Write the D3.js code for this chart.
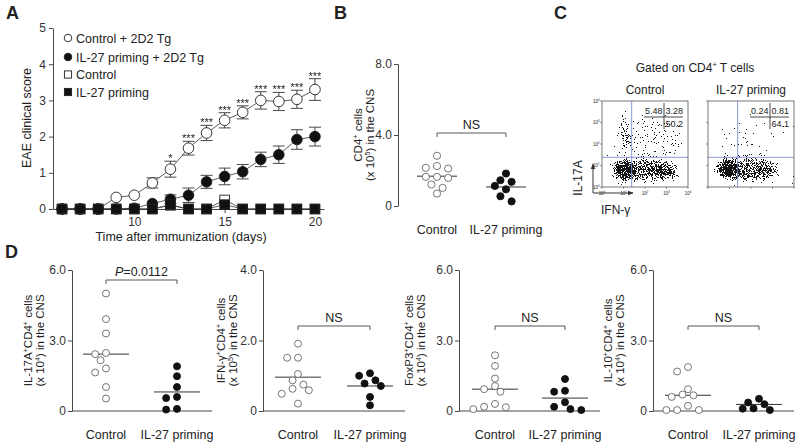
<!DOCTYPE html>
<html lang="en">
<head>
<meta charset="UTF-8">
<title>IL-27 priming EAE</title>
<script src="https://d3js.org/d3.v7.min.js"></script>
<style>
  body { margin: 0; background: #fff; }
  svg { font-family: "Liberation Sans", Arial, sans-serif; }
  text { fill: #222; }
  .axis path, .axis line { stroke: #333; stroke-width: 0.9; }
  .axis text { font-size: 12px; fill: #333; }
</style>
</head>
<body>
<script>
// ---- Panel A: clinical score ----
const days = [6, 7, 8, 9, 10, 11, 12, 13, 14, 15, 16, 17, 18, 19, 20];
const scoreCtrl2D2 = [0, 0, 0, 0.32, 0.38, 0.72, 1.1, 1.68, 2.1, 2.45, 2.67, 3.0, 2.97, 3.03, 3.3];
const semCtrl2D2   = [0, 0, 0, 0.05, 0.05, 0.14, 0.22, 0.19, 0.21, 0.21, 0.18, 0.24, 0.25, 0.25, 0.3];
const scoreIL272D2 = [0, 0, 0, 0, 0.02, 0.15, 0.27, 0.38, 0.75, 0.9, 1.03, 1.37, 1.5, 1.92, 2.0];
const semIL272D2   = [0, 0, 0, 0, 0.02, 0.07, 0.12, 0.2, 0.18, 0.23, 0.2, 0.2, 0.24, 0.27, 0.26];
const scoreCtrl    = [0, 0, 0, 0, 0, 0, 0.1, 0, 0, 0.25, 0, 0, 0, 0, 0];
const scoreIL27    = [0, 0, 0, 0, 0, 0, 0.12, 0, 0, 0.12, 0, 0, 0, 0, 0];
const sigMarks     = ["", "", "", "", "", "", "*", "***", "***", "***", "***", "***", "***", "***", "***"];
const legendLabels = ["Control + 2D2 Tg", "IL-27 priming + 2D2 Tg", "Control", "IL-27 priming"];

// ---- Panels B and D: cell counts ----
const dotCategories = ["Control", "IL-27 priming"];
const cd4Ctrl   = [2.83, 2.25, 2.11, 2.15, 1.64, 1.58, 1.64, 1.21, 1.02, 0.70];
const cd4IL27   = [1.45, 1.83, 1.13, 0.94, 1.36, 0.55, 0.26];
const cd4Median = [1.68, 1.07];
const il17Ctrl   = [5.0, 3.91, 3.30, 2.42, 2.47, 2.16, 1.81, 1.64, 1.02, 0.53];
const il17IL27   = [1.9, 1.48, 1.02, 0.6, 0.55, 0.06, 0.09];
const il17Median = [2.42, 0.81];
const ifngCtrl   = [1.91, 1.51, 1.51, 1.05, 0.87, 0.75, 0.63, 0.59, 0.49, 0.21];
const ifngIL27   = [1.0, 1.07, 0.78, 0.71, 0.87, 0.4, 0.16];
const ifngMedian = [0.96, 0.71];
const foxp3Ctrl   = [2.37, 1.92, 1.38, 1.06, 0.93, 0.82, 0.3, 0.18, 0.08, 0.16];
const foxp3IL27   = [1.36, 0.86, 0.82, 0.37, 0.18, 0.04, 0.08];
const foxp3Median = [0.93, 0.55];
const il10Ctrl   = [1.87, 1.68, 0.93, 0.67, 0.6, 0.7, 0.22, 0.04, 0.04, 0.04];
const il10IL27   = [0.36, 0.52, 0.29, 0.11, 0.04, 0.1];
const il10Median = [0.67, 0.28];

// ---- Panel C: flow cytometry ----
const flowTitles = ["Control", "IL-27 priming"];
const flowQuadrants = [["5.48", "3.28", "50.2"], ["0.24", "0.81", "64.1"]];
const flowGate = 1.38;              // gate position in decades, both axes
const decadeLabels = ["10{0}", "10{1}", "10{2}", "10{3}", "10{4}"];
// event clouds, in decades: centre, spread, density
const flowCtrlPop = [
  { x: 1.0, y: 0.8, sx: 0.5, sy: 0.5, w: 1.0 },
  { x: 2.1, y: 0.75, sx: 1.35, sy: 0.55, w: 0.65 },
  { x: 3.0, y: 0.7, sx: 0.6, sy: 0.4, w: 0.5 },
  { x: 1.0, y: 2.45, sx: 0.3, sy: 1.0, w: 0.45 },
  { x: 2.4, y: 2.3, sx: 1.3, sy: 1.1, w: 0.26 }
];
const flowIL27Pop = [
  { x: 0.9, y: 0.85, sx: 0.5, sy: 0.5, w: 1.0 },
  { x: 2.0, y: 0.8, sx: 1.35, sy: 0.55, w: 0.68 },
  { x: 2.0, y: 2.3, sx: 1.6, sy: 1.2, w: 0.15 }
];

const svg = d3.select("body").append("svg").attr("width", 800).attr("height", 445);
const defs = svg.append("defs");

// text with {superscript} parts
function rich(sel, str, size) {
  const parts = str.split(/(\{[^}]*\})/).filter(p => p);
  let up = false;
  parts.forEach(p => {
    if (p[0] === "{") {
      sel.append("tspan").attr("font-size", size * 0.62).attr("dy", -size * 0.38).text(p.slice(1, -1));
      up = true;
    } else {
      sel.append("tspan").attr("dy", up ? size * 0.38 : 0).text(p);
      up = false;
    }
  });
  return sel;
}

function panelLetter(t, x, y) {
  svg.append("text").attr("x", x).attr("y", y).attr("font-size", 18).attr("font-weight", "bold").attr("fill", "#111").text(t);
}

// ================= A =================
panelLetter("A", 6, 19);
const xA = d3.scaleLinear().domain([5.5, 20.5]).range([53, 324]);
const yA = d3.scaleLinear().domain([0, 5]).range([209, 28]);
const gA = svg.append("g");

gA.append("g").attr("class", "axis").attr("transform", "translate(53,0)")
  .call(d3.axisLeft(yA).ticks(5).tickSize(4).tickSizeOuter(0).tickPadding(3).tickFormat(d3.format("d")));
gA.append("g").attr("class", "axis").attr("transform", "translate(0,209)")
  .call(d3.axisBottom(xA).tickValues([10, 15, 20]).tickSize(4).tickSizeOuter(0).tickPadding(4));
gA.append("text").attr("x", 181).attr("y", 241).attr("text-anchor", "middle").attr("font-size", 12.5).text("Time after immunization (days)");
gA.append("text").attr("transform", "translate(27,118) rotate(-90)").attr("text-anchor", "middle").attr("dy", "0.35em")
  .attr("font-size", 12.5).text("EAE clinical score");

const seriesA = [
  { vals: scoreCtrl2D2, sem: semCtrl2D2, shape: "circle", fill: "#fff" },
  { vals: scoreIL272D2, sem: semIL272D2, shape: "circle", fill: "#111" },
  { vals: scoreCtrl, sem: null, shape: "square", fill: "#fff" },
  { vals: scoreIL27, sem: null, shape: "square", fill: "#111" }
];
const lineA = d3.line().x((d, i) => xA(days[i])).y(d => yA(d));
seriesA.forEach(s => {
  gA.append("path").attr("d", lineA(s.vals)).attr("fill", "none").attr("stroke", "#333").attr("stroke-width", 0.8);
});
seriesA.filter(s => s.sem).forEach(s => {
  s.vals.forEach((v, i) => {
    if (s.sem[i] < 0.08) return;
    const x = xA(days[i]), y1 = yA(v + s.sem[i]), y2 = yA(v - s.sem[i]);
    const eb = gA.append("g").attr("stroke", "#333").attr("stroke-width", 0.9);
    eb.append("line").attr("x1", x).attr("x2", x).attr("y1", y1).attr("y2", y2);
    eb.append("line").attr("x1", x - 6).attr("x2", x + 6).attr("y1", y1).attr("y2", y1);
    eb.append("line").attr("x1", x - 6).attr("x2", x + 6).attr("y1", y2).attr("y2", y2);
  });
});
function marker(g, shape, fill, x, y, r) {
  if (shape === "circle") {
    return g.append("circle").attr("cx", x).attr("cy", y).attr("r", r)
      .attr("fill", fill).attr("stroke", "#222").attr("stroke-width", 0.9);
  }
  return g.append("rect").attr("x", x - r).attr("y", y - r).attr("width", 2 * r).attr("height", 2 * r)
    .attr("fill", fill).attr("stroke", "#222").attr("stroke-width", 0.9);
}
seriesA.forEach(s => {
  s.vals.forEach((v, i) => marker(gA, s.shape, s.fill, xA(days[i]), yA(v), s.shape === "circle" ? 5.3 : 4.8));
});
// grayscale group keeps the small asterisks free of colour fringes
const gSig = gA.append("g").attr("opacity", 0.999);
sigMarks.forEach((m, i) => {
  if (!m) return;
  gSig.append("text").attr("x", xA(days[i])).attr("y", yA(scoreCtrl2D2[i] + semCtrl2D2[i]) + 1)
    .attr("text-anchor", "middle").attr("font-size", 11).attr("fill", "#222").text(m);
});
legendLabels.forEach((lab, i) => {
  const y = [38, 57, 74.5, 92][i];
  const s = seriesA[i];
  marker(gA, s.shape, s.fill, 68, y, s.shape === "circle" ? 3.8 : 3.6);
  gA.append("text").attr("x", 76).attr("y", y).attr("dy", "0.36em").attr("font-size", 12.5).text(lab);
});

// ================= B & D =================
function swarm(vals, y, r) {
  const pts = vals.map(v => ({ v, y: y(v) })).sort((a, b) => a.y - b.y);
  const placed = [], step = r * 1.55, minD = 2 * r + 0.5;
  pts.forEach(p => {
    for (let k = 0; k < 30; k++) {
      const off = (k % 2 ? -1 : 1) * Math.ceil(k / 2) * step;
      if (placed.every(q => Math.hypot(q.dx - off, q.y - p.y) >= minD)) { p.dx = off; placed.push(p); break; }
    }
  });
  return pts;
}

function dotPanel(cfg) {
  const g = svg.append("g");
  const y = d3.scaleLinear().domain([0, cfg.max]).range([cfg.yBot, cfg.yTop]);
  const x = d3.scalePoint().domain(dotCategories).range(cfg.centers);
  g.append("g").attr("class", "axis").attr("transform", `translate(${cfg.x0},0)`)
    .call(d3.axisLeft(y).tickValues(cfg.ticks).tickSize(4).tickSizeOuter(0).tickPadding(2)
      .tickFormat(d => d === 0 ? "0" : d.toFixed(1)));
  if (cfg.xEnd) {
    g.append("line").attr("x1", cfg.x0).attr("x2", cfg.xEnd).attr("y1", cfg.yBot).attr("y2", cfg.yBot)
      .attr("stroke", "#333").attr("stroke-width", 0.9);
  }
  dotCategories.forEach(c => {
    g.append("text").attr("x", x(c)).attr("y", cfg.yBot + 28).attr("text-anchor", "middle").attr("font-size", 12.5).text(c);
  });
  cfg.label.forEach((l, i) => {
    rich(g.append("text").attr("transform", `translate(${cfg.labelX[i]},${(cfg.yTop + cfg.yBot) / 2}) rotate(-90)`)
      .attr("text-anchor", "middle").attr("dy", "0.35em").attr("font-size", 11.5), l, 11.5);
  });
  // bracket and statistic
  g.append("path").attr("fill", "none").attr("stroke", "#444").attr("stroke-width", 0.9)
    .attr("d", `M${x(dotCategories[0])},${cfg.bracketY + 4}V${cfg.bracketY}H${x(dotCategories[1])}V${cfg.bracketY + 4}`);
  const st = g.append("text").attr("x", (x(dotCategories[0]) + x(dotCategories[1])) / 2).attr("y", cfg.bracketY - 4)
    .attr("text-anchor", "middle").attr("font-size", 12.5);
  if (cfg.p) {
    st.append("tspan").attr("font-style", "italic").text("P");
    st.append("tspan").text("=" + cfg.p);
  } else st.text("NS");
  [cfg.ctrl, cfg.il27].forEach((vals, gi) => {
    const cx = x(dotCategories[gi]);
    g.append("line").attr("x1", cx - cfg.half).attr("x2", cx + cfg.half)
      .attr("y1", y(cfg.median[gi])).attr("y2", y(cfg.median[gi])).attr("stroke", "#333").attr("stroke-width", 1);
    swarm(vals, y, cfg.r).forEach(p => {
      g.append("circle").attr("cx", cx + p.dx).attr("cy", p.y).attr("r", cfg.r)
        .attr("fill", gi ? "#111" : "#fff").attr("stroke", gi ? "#111" : "#666").attr("stroke-width", 0.9);
    });
  });
}

panelLetter("B", 334, 19);
dotPanel({ x0: 398, xEnd: null, centers: [437, 506], yTop: 64, yBot: 206, max: 8, ticks: [0, 4, 8],
  ctrl: cd4Ctrl, il27: cd4IL27, median: cd4Median, bracketY: 133, half: 20, r: 3.6,
  label: ["CD4{+} cells", "(x 10{5}) in the CNS"], labelX: [362, 374] });

panelLetter("D", 5, 258);
dotPanel({ x0: 72, xEnd: 212, centers: [106, 177], yTop: 270, yBot: 411, max: 6, ticks: [0, 3, 6],
  ctrl: il17Ctrl, il27: il17IL27, median: il17Median, bracketY: 280, half: 23, r: 3.5, p: "0.0112",
  label: ["IL-17A{+}CD4{+} cells", "(x 10{4}) in the CNS"], labelX: [32, 44] });
dotPanel({ x0: 263, xEnd: 405, centers: [298, 370], yTop: 270, yBot: 411, max: 4, ticks: [0, 2, 4],
  ctrl: ifngCtrl, il27: ifngIL27, median: ifngMedian, bracketY: 326, half: 23, r: 3.5,
  label: ["IFN-\u03b3{+}CD4{+} cells", "(x 10{5}) in the CNS"], labelX: [225, 237] });
dotPanel({ x0: 459, xEnd: 600, centers: [495, 565], yTop: 270, yBot: 411, max: 6, ticks: [0, 3, 6],
  ctrl: foxp3Ctrl, il27: foxp3IL27, median: foxp3Median, bracketY: 326, half: 23, r: 3.5,
  label: ["FoxP3{+}CD4{+} cells", "(x 10{4}) in the CNS"], labelX: [413, 425] });
dotPanel({ x0: 653, xEnd: 794, centers: [688, 759], yTop: 270, yBot: 411, max: 6, ticks: [0, 3, 6],
  ctrl: il10Ctrl, il27: il10IL27, median: il10Median, bracketY: 326, half: 23, r: 3.5,
  label: ["IL-10{+}CD4{+} cells", "(x 10{4}) in the CNS"], labelX: [612, 624] });

// ================= C =================
panelLetter("C", 554, 19);
rich(svg.append("text").attr("x", 695).attr("y", 72).attr("text-anchor", "middle").attr("font-size", 12), "Gated on CD4{+} T cells", 12);

// speckle filter: blurred density thresholded against stretched noise
const f = defs.append("filter").attr("id", "speckle").attr("filterUnits", "userSpaceOnUse")
  .attr("x", 595).attr("y", 95).attr("width", 205).attr("height", 100).attr("color-interpolation-filters", "sRGB");
f.append("feGaussianBlur").attr("in", "SourceAlpha").attr("stdDeviation", 3.5).attr("result", "dens");
f.append("feTurbulence").attr("type", "fractalNoise").attr("baseFrequency", 1.1).attr("numOctaves", 2).attr("seed", 4).attr("result", "noise");
f.append("feColorMatrix").attr("in", "noise").attr("type", "matrix")
  .attr("values", "0 0 0 0 0  0 0 0 0 0  0 0 0 0 0  1 0 0 0 0").attr("result", "na");
f.append("feComposite").attr("in", "dens").attr("in2", "na").attr("operator", "arithmetic")
  .attr("k1", 0).attr("k2", 1).attr("k3", -2).attr("k4", 0.85).attr("result", "diff");
const ct = f.append("feComponentTransfer").attr("in", "diff");
["feFuncR", "feFuncG", "feFuncB"].forEach(fn => ct.append(fn).attr("type", "linear").attr("slope", 0).attr("intercept", 0.08));
ct.append("feFuncA").attr("type", "discrete").attr("tableValues", "0 1");

const flowBoxes = [{ x0: 602, y0: 101 }, { x0: 708, y0: 101 }];
const boxSize = 86;
[flowCtrlPop, flowIL27Pop].forEach((pop, pi) => {
  const bx = flowBoxes[pi];
  const xs = d3.scaleLinear().domain([0, 4]).range([bx.x0, bx.x0 + boxSize]);
  const ys = d3.scaleLinear().domain([0, 4]).range([bx.y0 + boxSize, bx.y0]);
  const g = svg.append("g");
  defs.append("clipPath").attr("id", "clipFlow" + pi).append("rect")
    .attr("x", bx.x0).attr("y", bx.y0).attr("width", boxSize).attr("height", boxSize);
  const cloud = g.append("g").attr("clip-path", `url(#clipFlow${pi})`).append("g").attr("filter", "url(#speckle)");
  pop.forEach(c => {
    cloud.append("ellipse").attr("cx", xs(c.x)).attr("cy", ys(c.y))
      .attr("rx", c.sx * boxSize / 4).attr("ry", c.sy * boxSize / 4).attr("fill", "#000").attr("fill-opacity", c.w);
  });
  // gates
  g.append("line").attr("x1", xs(flowGate)).attr("x2", xs(flowGate)).attr("y1", bx.y0).attr("y2", bx.y0 + boxSize)
    .attr("stroke", "#7d8fd2").attr("stroke-width", 0.9);
  g.append("line").attr("x1", bx.x0).attr("x2", bx.x0 + boxSize).attr("y1", ys(flowGate)).attr("y2", ys(flowGate))
    .attr("stroke", "#7d8fd2").attr("stroke-width", 0.9);
  g.append("rect").attr("x", bx.x0).attr("y", bx.y0).attr("width", boxSize).attr("height", boxSize)
    .attr("fill", "none").attr("stroke", "#555").attr("stroke-width", 0.8);
  // decade ticks
  d3.range(5).forEach(k => {
    g.append("line").attr("x1", xs(k)).attr("x2", xs(k)).attr("y1", bx.y0 + boxSize).attr("y2", bx.y0 + boxSize + 2).attr("stroke", "#555").attr("stroke-width", 0.6);
    g.append("line").attr("x1", bx.x0 - 2).attr("x2", bx.x0).attr("y1", ys(k)).attr("y2", ys(k)).attr("stroke", "#555").attr("stroke-width", 0.6);
    if (pi === 0) {
      rich(g.append("text").attr("x", xs(k)).attr("y", bx.y0 + boxSize + 7.5).attr("text-anchor", "middle").attr("font-size", 4.5).attr("fill", "#555"), decadeLabels[k], 4.5);
      rich(g.append("text").attr("x", bx.x0 - 2.5).attr("y", ys(k) + 1.5).attr("text-anchor", "end").attr("font-size", 4.5).attr("fill", "#555"), decadeLabels[k], 4.5);
    }
  });
  // quadrant percentages
  const q = flowQuadrants[pi];
  const vx = bx.x0 + 62, hy = bx.y0 + 16;
  g.append("line").attr("x1", bx.x0 + 42).attr("x2", bx.x0 + 81).attr("y1", hy).attr("y2", hy).attr("stroke", "#333").attr("stroke-width", 0.9);
  g.append("line").attr("x1", vx).attr("x2", vx).attr("y1", bx.y0 + 2).attr("y2", bx.y0 + 28).attr("stroke", "#333").attr("stroke-width", 0.9);
  g.append("text").attr("x", vx - 1.5).attr("y", hy - 3).attr("text-anchor", "end").attr("font-size", 9).text(q[0]);
  g.append("text").attr("x", vx + 1.5).attr("y", hy - 3).attr("font-size", 9).text(q[1]);
  g.append("text").attr("x", vx + 1.5).attr("y", hy + 10).attr("font-size", 9).text(q[2]);
  svg.append("text").attr("x", bx.x0 + boxSize / 2).attr("y", 94).attr("text-anchor", "middle").attr("font-size", 12).text(flowTitles[pi]);
});
// axis arrows
defs.append("marker").attr("id", "arrow").attr("viewBox", "0 -5 10 10").attr("refX", 9).attr("refY", 0)
  .attr("markerWidth", 6).attr("markerHeight", 6).attr("orient", "auto")
  .append("path").attr("d", "M0,-4L10,0L0,4Z").attr("fill", "#333");
svg.append("line").attr("x1", 593).attr("y1", 193).attr("x2", 593).attr("y2", 164)
  .attr("stroke", "#333").attr("stroke-width", 1).attr("marker-end", "url(#arrow)");
svg.append("line").attr("x1", 593).attr("y1", 193).attr("x2", 633).attr("y2", 193)
  .attr("stroke", "#333").attr("stroke-width", 1).attr("marker-end", "url(#arrow)");
svg.append("text").attr("transform", "translate(578,178) rotate(-90)").attr("text-anchor", "middle").attr("dy", "0.35em")
  .attr("font-size", 12).text("IL-17A");
svg.append("text").attr("x", 601).attr("y", 214).attr("font-size", 12).text("IFN-\u03b3");
</script>
</body>
</html>
